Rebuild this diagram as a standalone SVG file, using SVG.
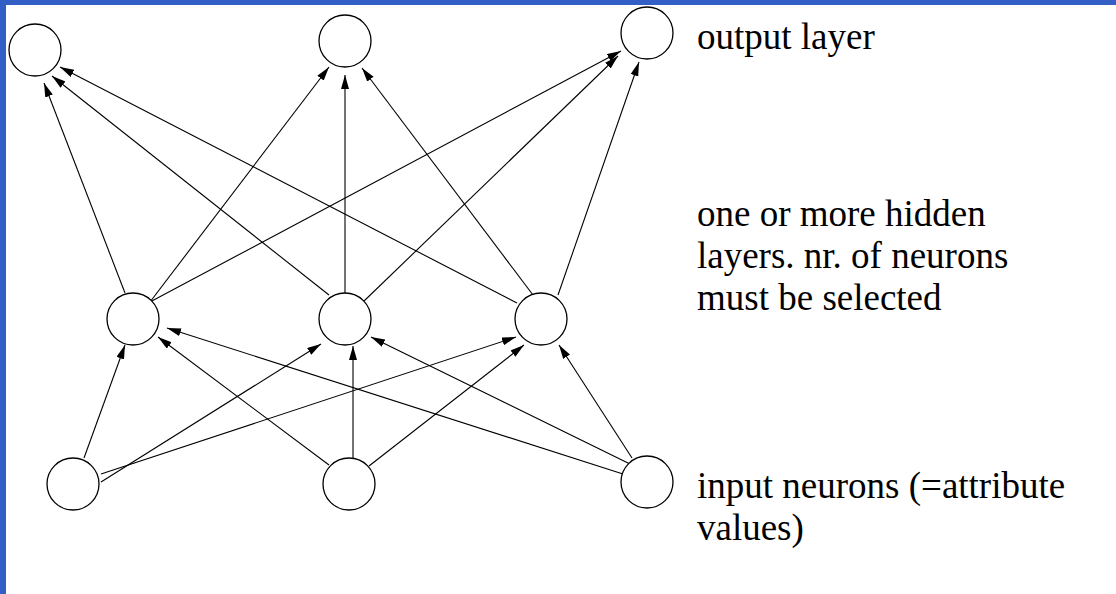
<svg xmlns="http://www.w3.org/2000/svg" width="1116" height="594" viewBox="0 0 1116 594">
<defs>
<style>
.n{fill:#fff;stroke:#000;stroke-width:1.3}
.e{stroke:#000;stroke-width:1.1;fill:none;marker-end:url(#ah)}
.t{font-family:"Liberation Serif","Times New Roman",serif;font-size:37px;fill:#000}
</style>
<marker id="ah" markerUnits="userSpaceOnUse" markerWidth="15" markerHeight="9" refX="14" refY="4" orient="auto">
<path d="M0,0 L14,4 L0,8 Z" fill="#000"/>
</marker>
</defs>
<rect x="0" y="0" width="1116" height="594" fill="#fff"/>
<rect x="0" y="0" width="1116" height="5" fill="#325EC6"/>
<rect x="0" y="0" width="6" height="594" fill="#325EC6"/>
<g id="connectors">
<line class="e" x1="125" y1="293" x2="44" y2="83"/>
<line class="e" x1="329" y1="295" x2="52" y2="76"/>
<line class="e" x1="517" y1="303" x2="60" y2="67"/>
<line class="e" x1="150" y1="302" x2="329" y2="67"/>
<line class="e" x1="345" y1="294" x2="345" y2="75"/>
<line class="e" x1="533" y1="295" x2="362" y2="68"/>
<line class="e" x1="150" y1="302" x2="621" y2="51"/>
<line class="e" x1="363" y1="302" x2="618" y2="56"/>
<line class="e" x1="558" y1="295" x2="639" y2="62"/>
<line class="e" x1="84" y1="458" x2="125" y2="345"/>
<line class="e" x1="101" y1="482" x2="321" y2="344"/>
<line class="e" x1="101" y1="474" x2="516" y2="337"/>
<line class="e" x1="329" y1="465" x2="158" y2="337"/>
<line class="e" x1="353" y1="458" x2="353" y2="346"/>
<line class="e" x1="369" y1="466" x2="524" y2="345"/>
<line class="e" x1="623" y1="474" x2="167" y2="328"/>
<line class="e" x1="630" y1="464" x2="371" y2="337"/>
<line class="e" x1="632" y1="458" x2="559" y2="345"/>
</g>
<g id="out1"><circle class="n" cx="35" cy="50" r="26"/></g>
<g id="out2"><circle class="n" cx="345" cy="41" r="26"/></g>
<g id="out3"><circle class="n" cx="647" cy="33" r="26"/></g>
<g id="hid1"><circle class="n" cx="133" cy="319" r="26"/></g>
<g id="hid2"><circle class="n" cx="345" cy="319" r="26"/></g>
<g id="hid3"><circle class="n" cx="541" cy="319" r="26"/></g>
<g id="in1"><circle class="n" cx="73" cy="484" r="26"/></g>
<g id="in2"><circle class="n" cx="349" cy="484" r="26"/></g>
<g id="in3"><circle class="n" cx="647" cy="482" r="26"/></g>
<g id="label-output"><text class="t" x="697" y="49">output layer</text></g>
<g id="label-hidden">
<text class="t" x="697" y="226">one or more hidden</text>
<text class="t" x="697" y="268">layers. nr. of neurons</text>
<text class="t" x="697" y="310">must be selected</text>
</g>
<g id="label-input">
<text class="t" x="697" y="498">input neurons (=attribute</text>
<text class="t" x="697" y="540">values)</text>
</g>
</svg>
